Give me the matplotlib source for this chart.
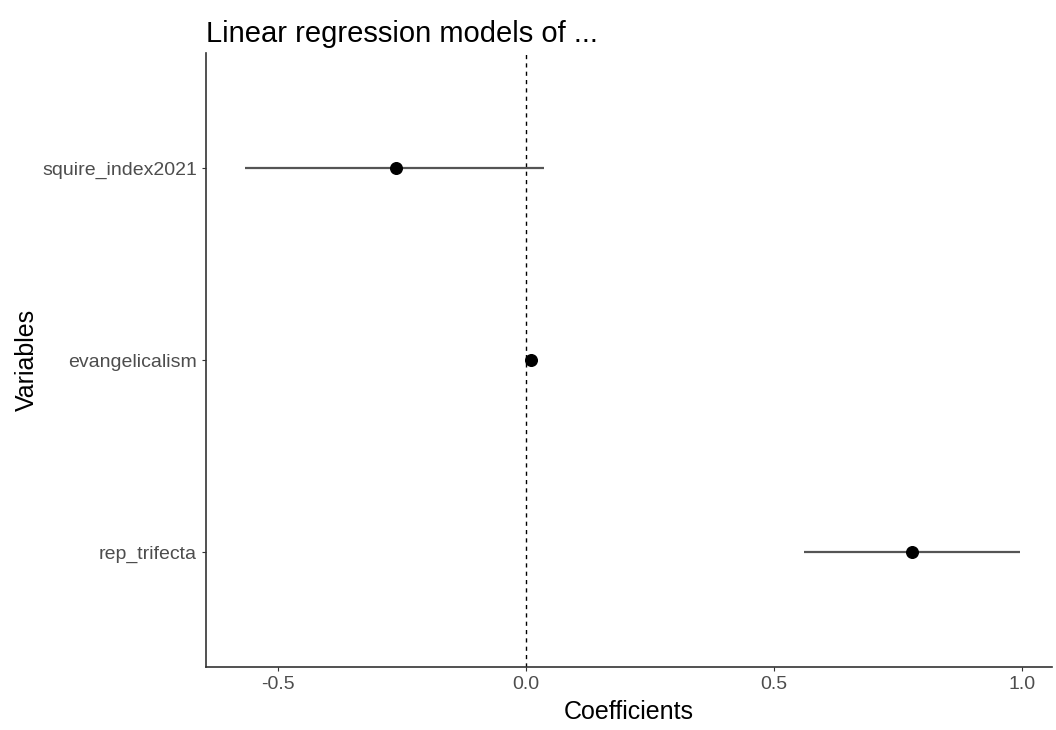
import matplotlib.pyplot as plt

variables = ['rep_trifecta', 'evangelicalism', 'squire_index2021']
coef = [0.778, 0.010, -0.262]
ci_low = [0.560, 0.002, -0.567]
ci_high = [0.996, 0.018, 0.036]

plt.rcParams['font.family'] = ['Liberation Sans', 'DejaVu Sans']

fig = plt.figure(figsize=(10.56, 7.3), dpi=100)
ax = fig.add_axes([0.195, 0.0863, 0.801, 0.841])

ypos = list(range(1, len(variables) + 1))
ax.hlines(ypos, ci_low, ci_high, color='#555555', linewidth=1.6, zorder=2)
ax.scatter(coef, ypos, s=70, color='black', zorder=3)
ax.axvline(0, color='black', linestyle=(0, (3, 3)), linewidth=1.0, zorder=1)

ax.set_xlim(-0.645, 1.06)
ax.set_ylim(0.4, 3.6)
ax.set_xticks([-0.5, 0.0, 0.5, 1.0])
ax.set_xticklabels(['-0.5', '0.0', '0.5', '1.0'])
ax.set_yticks(ypos)
ax.set_yticklabels(variables)
ax.tick_params(colors='#333333', labelcolor='#4D4D4D', labelsize=14, length=3)

for side in ['top', 'right']:
    ax.spines[side].set_visible(False)
for side in ['left', 'bottom']:
    ax.spines[side].set_color('#333333')
    ax.spines[side].set_linewidth(1.2)

ax.set_xlabel('Coefficients', fontsize=18, labelpad=5)
ax.set_ylabel('Variables', fontsize=18, labelpad=2)
ax.set_title('Linear regression models of ...', fontsize=21, loc='left', pad=8)

fig.savefig('out.png', dpi=100)
